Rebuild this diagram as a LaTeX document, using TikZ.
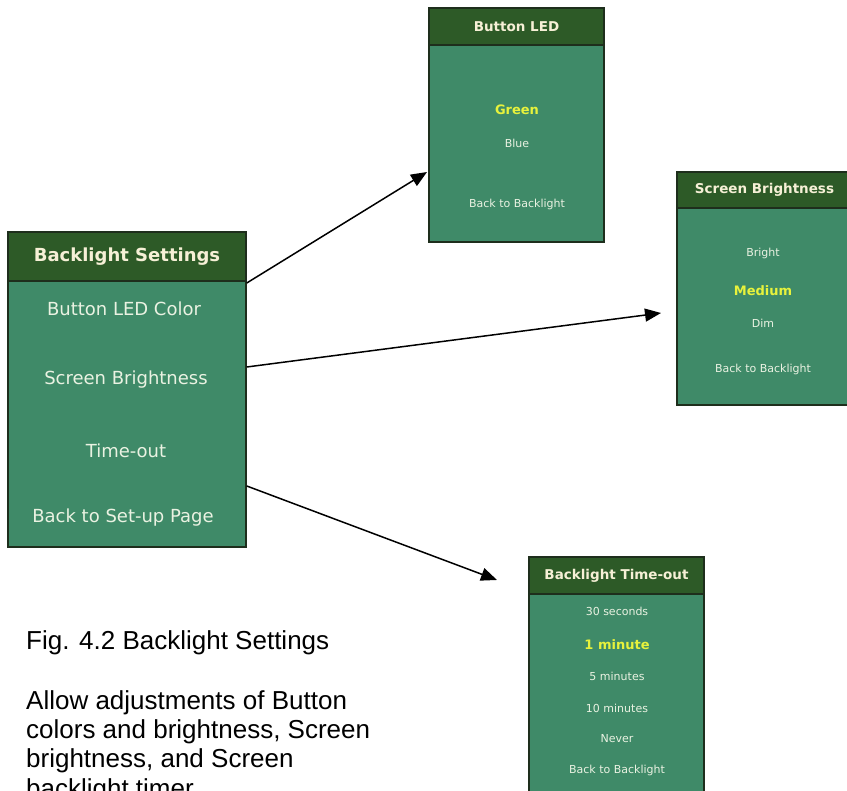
\documentclass[tikz,border=0pt]{standalone}
\usepackage{fontspec}
\setmainfont{Liberation Sans}
\newfontfamily\panelfont{DejaVu Sans}
\usetikzlibrary{arrows.meta}
\definecolor{headgreen}{HTML}{2D5A27}
\definecolor{bodygreen}{HTML}{3F8A68}
\definecolor{edgegreen}{HTML}{1E2E1C}
\definecolor{itemtext}{HTML}{EAF2E2}
\definecolor{headtext}{HTML}{F6F0D6}
\definecolor{pickyellow}{HTML}{E8F23C}
\tikzset{
  panel/.style={draw=edgegreen, line width=1.5pt, fill=bodygreen, inner sep=0pt},
  head/.style={draw=edgegreen, line width=1.5pt, fill=headgreen, inner sep=0pt, text=headtext,
    font=\panelfont\bfseries\fontsize{13.5}{16}\selectfont},
  item/.style={text=itemtext, inner sep=0pt, font=\panelfont\fontsize{11}{13}\selectfont},
  bigitem/.style={text=itemtext, inner sep=0pt, font=\panelfont\fontsize{18}{21}\selectfont},
  pick/.style={text=pickyellow, inner sep=0pt, font=\panelfont\bfseries\fontsize{13}{15}\selectfont},
  arr/.style={-{Triangle[length=16pt,width=13pt]}, line width=1.5pt},
}
\begin{document}
\begin{tikzpicture}[x=1pt, y=-1pt]
                \useasboundingbox (0,0) rectangle (847,791);
                \clip (0,0) rectangle (847,791);
                % main menu
                \node[panel, minimum width=238pt, minimum height=315pt](MAIN) at (127,389.5) {};
                \node[head, minimum width=238pt, minimum height=49pt, font=\panelfont\bfseries\fontsize{18}{21}\selectfont](MAINH) at (127,256.5) {Backlight Settings};
                \node[bigitem](MAINLED) at (124,309) {Button LED Color};
                \node[bigitem](MAINBRIG) at (126,380) {Screen Brightness};
                \node[bigitem](MAINTIME) at (126,451) {Time-out};
                \node[bigitem](MAINBACK) at (123,518) {Back to Set-up Page};
                % button LED
                \node[panel, minimum width=175pt, minimum height=234pt](LED) at (516.5,125) {};
                \node[head, minimum width=175pt, minimum height=37pt](LEDH) at (516.5,26.5) {Button LED};
                \node[pick](LEDGREEN) at (517,110) {Green};
                \node[item](LEDBLUE) at (517,143) {Blue};
                \node[item](LEDBACK) at (517,204) {Back to Backlight};
                % screen brightness
                \node[panel, minimum width=175pt, minimum height=233pt](BRIG) at (764.5,288.5) {};
                \node[head, minimum width=175pt, minimum height=36pt](BRIGH) at (764.5,190) {Screen Brightness};
                \node[item](BRIGHIGH) at (763,253) {Bright};
                \node[pick](BRIGMED) at (763,291) {Medium};
                \node[item](BRIGDIM) at (763,323) {Dim};
                \node[item](BRIGBACK) at (763,369) {Back to Backlight};
                % backlight time-out
                \node[panel, minimum width=175pt, minimum height=246pt](TIME) at (616.5,680) {};
                \node[head, minimum width=175pt, minimum height=37pt](TIMEH) at (616.5,575.5) {Backlight Time-out};
                \node[item](TIMEA) at (617,611) {30 seconds};
                \node[pick](TIMEB) at (617,645) {1 minute};
                \node[item](TIMEC) at (617,676) {5 minutes};
                \node[item](TIMED) at (617,708) {10 minutes};
                \node[item](TIMEE) at (617,739) {Never};
                \node[item](TIMEBACK) at (617,770) {Back to Backlight};
                % arrows
                \coordinate (LEDIN) at (427,172);
                \coordinate (BRIGIN) at (661,313);
                \coordinate (TIMEIN) at (497,580);
                \draw[arr] (MAIN.east |- 0,283) -- (LEDIN);
                \draw[arr] (MAIN.east |- 0,367) -- (BRIGIN);
                \draw[arr] (MAIN.east |- 0,486) -- (TIMEIN);
                % caption (base of a multi-line node is its last line)
                \node[anchor=base west, inner sep=0pt, font=\fontsize{26}{29.3}\selectfont](CAP) at (26,649) {Fig. 4.2 Backlight Settings};
                \node[anchor=base west, inner sep=0pt, align=left, font=\fontsize{26}{29.3}\selectfont](NOTE) at (26,797) {Allow adjustments of Button\\colors and brightness, Screen\\brightness, and Screen\\backlight timer};
\end{tikzpicture}
\end{document}
